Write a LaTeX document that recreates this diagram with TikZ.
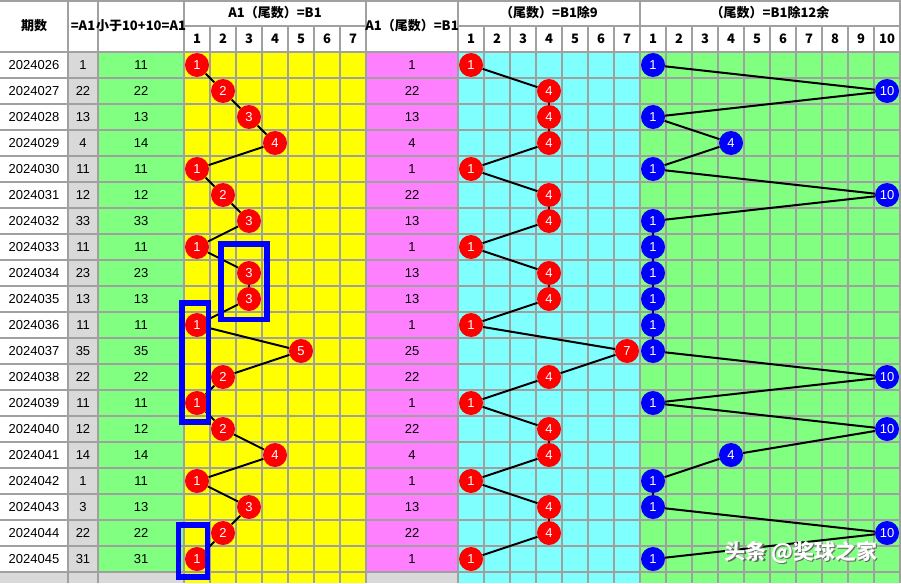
\documentclass[tikz,border=0pt]{standalone}
\usepackage{fontspec}
\setmainfont{Liberation Sans}
\newfontfamily\cjk{Noto Sans CJK SC}
\definecolor{gridc}{HTML}{A0A0A0}
\definecolor{lgray}{HTML}{D9D9D9}
\definecolor{grn}{HTML}{80FF80}
\definecolor{yel}{HTML}{FFFF00}
\definecolor{pnk}{HTML}{FF80FF}
\definecolor{cyn}{HTML}{80FFFF}
\definecolor{rb}{HTML}{FF0000}
\definecolor{bb}{HTML}{0000FF}
\begin{document}
\begin{tikzpicture}[x=1pt,y=-1pt,
  thin grid/.style={draw=gridc, line width=1.3},
  thick grid/.style={draw=gridc, line width=2.6},
  cell/.style={inner sep=0, font=\fontsize{13}{13}\selectfont},
  head/.style={inner sep=0, font=\cjk\bfseries\fontsize{13}{13}\selectfont},
  rball/.style={circle, fill=rb, inner sep=0, minimum size=24, text=white, font=\fontsize{13}{13}\selectfont},
  bball/.style={rball, fill=bb},
  link/.style={draw=black, line width=2},
  frame/.style={draw=bb, line width=5.5}]
\useasboundingbox (0,0) rectangle (901,583);
\clip (0,0) rectangle (901,583);
% backgrounds
\fill[white] (0,0) rectangle (901,583);
\fill[lgray] (68,52) rectangle (98,572);
\fill[grn] (98,52) rectangle (184,572);
\fill[yel] (184,52) rectangle (366,583);
\fill[pnk] (366,52) rectangle (458,572);
\fill[cyn] (458,52) rectangle (640,583);
\fill[grn] (640,52) rectangle (901,583);
\fill[lgray] (0,572) rectangle (184,583);
\fill[lgray] (366,572) rectangle (458,583);
% grid
\draw[thin grid] (0,1) -- (901,1);
\draw[thin grid] (184,26) -- (366,26);
\draw[thin grid] (458,26) -- (901,26);
\foreach \r in {1,...,20} \draw[thin grid] (0,{52+26*\r}) -- (901,{52+26*\r});
\draw[thick grid] (0,52) -- (901,52);
\foreach \k in {1,...,6} {
  \draw[thin grid] ({184+26*\k},26) -- ({184+26*\k},583);
  \draw[thin grid] ({458+26*\k},26) -- ({458+26*\k},583);
}
\foreach \k in {1,...,9} \draw[thin grid] ({640+26*\k},26) -- ({640+26*\k},583);
\draw[thin grid] (900,0) -- (900,583);
\foreach \xx in {68,98,184,366,458,640} \draw[thick grid] (\xx,0) -- (\xx,583);
% headers
\node[head] (h1) at (34,26) {期数};
\node[head] (h2) at (83,26) {=A1};
\node[head] (h3) at (141,26) {小于10+10=A1};
\node[head] (h4) at (275,13) {A1（尾数）=B1};
\node[head] (h5) at (412,26) {A1（尾数）=B1};
\node[head] (h6) at (549,13) {（尾数）=B1除9};
\node[head] (h7) at (770,13) {（尾数）=B1除12余};
\foreach \k in {1,...,7} {
  \node[head] (ya\k) at ({171+26*\k},39) {\k};
  \node[head] (ca\k) at ({445+26*\k},39) {\k};
}
\foreach \k in {1,...,10} \node[head] (ga\k) at ({627+26*\k},39) {\k};
% data
\foreach \i/\q/\a/\b/\ya/\p/\c/\g in {
 0/2024026/1/11/1/1/1/1,
 1/2024027/22/22/2/22/4/10,
 2/2024028/13/13/3/13/4/1,
 3/2024029/4/14/4/4/4/4,
 4/2024030/11/11/1/1/1/1,
 5/2024031/12/12/2/22/4/10,
 6/2024032/33/33/3/13/4/1,
 7/2024033/11/11/1/1/1/1,
 8/2024034/23/23/3/13/4/1,
 9/2024035/13/13/3/13/4/1,
 10/2024036/11/11/1/1/1/1,
 11/2024037/35/35/5/25/7/1,
 12/2024038/22/22/2/22/4/10,
 13/2024039/11/11/1/1/1/1,
 14/2024040/12/12/2/22/4/10,
 15/2024041/14/14/4/4/4/4,
 16/2024042/1/11/1/1/1/1,
 17/2024043/3/13/3/13/4/1,
 18/2024044/22/22/2/22/4/10,
 19/2024045/31/31/1/1/1/1} {
  \node[cell] (q\i) at (34,{65+26*\i}) {\q};
  \node[cell] (a\i) at (83,{65+26*\i}) {\a};
  \node[cell] (b\i) at (141,{65+26*\i}) {\b};
  \node[cell] (p\i) at (412,{65+26*\i}) {\p};
  \node[rball] (y\i) at ({171+26*\ya},{65+26*\i}) {\ya};
  \node[rball] (c\i) at ({445+26*\c},{65+26*\i}) {\c};
  \node[bball] (g\i) at ({627+26*\g},{65+26*\i}) {\g};
}
% connectors
\foreach \i [evaluate=\i as \j using {int(\i+1)}] in {0,...,18} {
  \draw[link] (y\i) -- (y\j);
  \draw[link] (c\i) -- (c\j);
  \draw[link] (g\i) -- (g\j);
}
% highlight frames
\draw[frame] (221,243.8) rectangle (267,319.7);
\draw[frame] (182,303) rectangle (208.5,422);
\draw[frame] (178.3,525) rectangle (207.5,577);
% watermark
\node[inner sep=0, text=black!60, font=\cjk\bfseries\fontsize{21}{21}\selectfont] (wm0) at (802.5,553.5) {头条 @奖球之家};
\node[inner sep=0, text=white, font=\cjk\bfseries\fontsize{21}{21}\selectfont] (wm) at (801,552) {头条 @奖球之家};
\end{tikzpicture}
\end{document}
